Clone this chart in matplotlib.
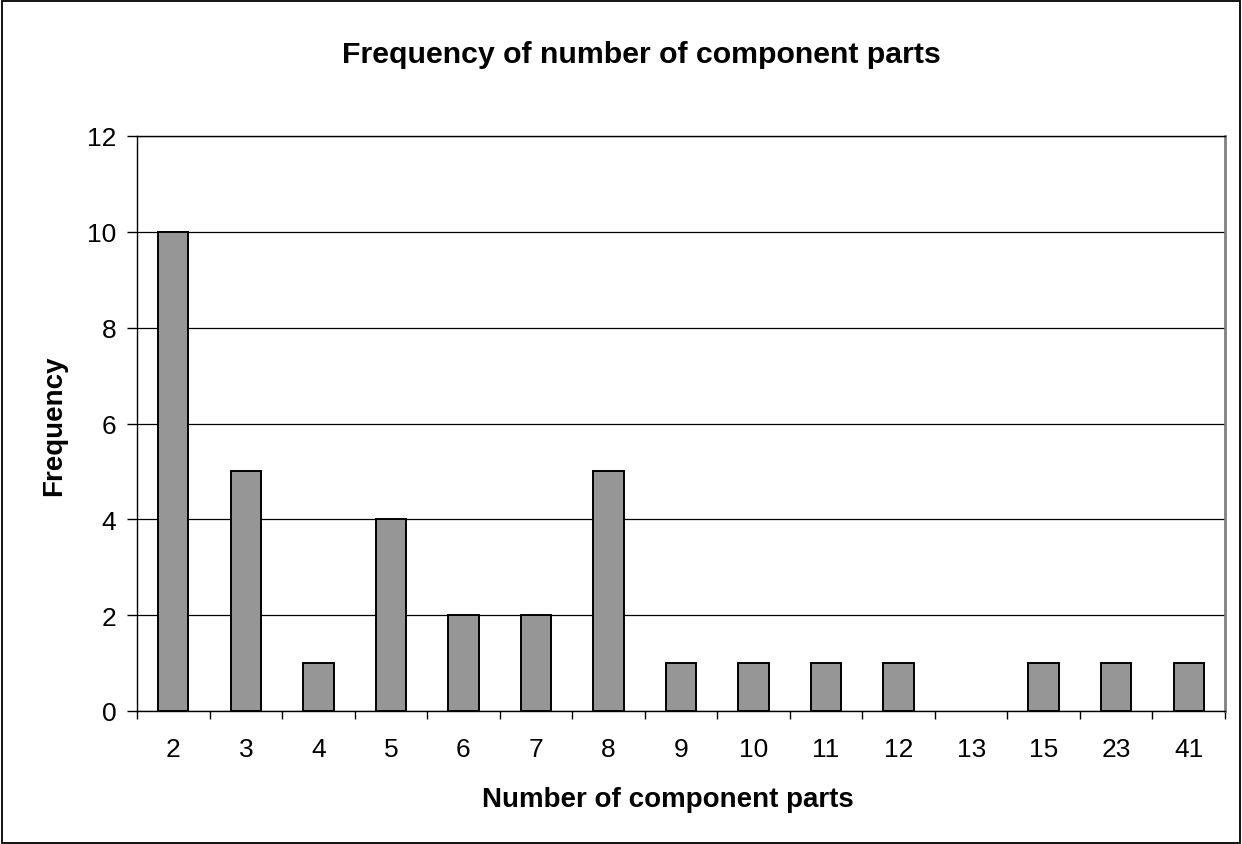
import matplotlib.pyplot as plt
import numpy as np
from matplotlib.patches import Rectangle

# data
parts = ['2', '3', '4', '5', '6', '7', '8', '9', '10', '11', '12', '13', '15', '23', '41']
frequency = [10, 5, 1, 4, 2, 2, 5, 1, 1, 1, 1, 0, 1, 1, 1]

plt.rcParams['font.family'] = ['Liberation Sans', 'DejaVu Sans']

W, H = 1242, 845
fig = plt.figure(figsize=(W / 100, H / 100), dpi=100)
ax = fig.add_axes([137 / W, 1 - 712 / H, (1225 - 137) / W, (712 - 137) / H])

x_pos = np.arange(len(parts))
# zero-height bars get no outline (as in the reference, nothing is drawn for 13)
edges = ['black' if f > 0 else 'none' for f in frequency]
ax.bar(x_pos, frequency, width=0.42, color='#969696', edgecolor=edges, linewidth=1.4, zorder=3)

ax.set_xlim(-0.5, len(parts) - 0.5)
ax.set_ylim(0, 12)
ax.set_yticks(np.arange(0, 13, 2))
ax.yaxis.grid(True, color='black', linewidth=0.9, zorder=0)

# category labels centred, tick marks on the category boundaries
ax.set_xticks(x_pos)
ax.set_xticklabels(parts)
ax.tick_params(axis='x', length=0, pad=19, labelsize=19)
ax.set_xticks(np.arange(-0.5, len(parts), 1), minor=True)
ax.tick_params(axis='x', which='minor', length=6, width=1, direction='out')
ax.tick_params(axis='y', length=7, width=1, labelsize=19, pad=8)

ax.spines['top'].set_color('black')
ax.spines['top'].set_linewidth(1)
ax.spines['right'].set_color('#808080')
ax.spines['right'].set_linewidth(2)
for side in ['left', 'bottom']:
    ax.spines[side].set_color('black')
    ax.spines[side].set_linewidth(1)

fig.text(668 / W, 1 - 800 / H, 'Number of component parts',
         ha='center', va='center', fontsize=20, fontweight='bold')
fig.text(54 / W, 1 - 426 / H, 'Frequency', rotation=90,
         ha='center', va='center', fontsize=20, fontweight='bold')
fig.text(641 / W, 1 - 55 / H, 'Frequency of number of component parts',
         ha='center', va='center', fontsize=21.8, fontweight='bold')

# outer chart border
fig.patches.append(Rectangle((2 / W, 1 / H), (W - 4) / W, (H - 3) / H, transform=fig.transFigure,
                             fill=False, edgecolor='black', linewidth=1.3))

plt.savefig('out.png', dpi=100)
